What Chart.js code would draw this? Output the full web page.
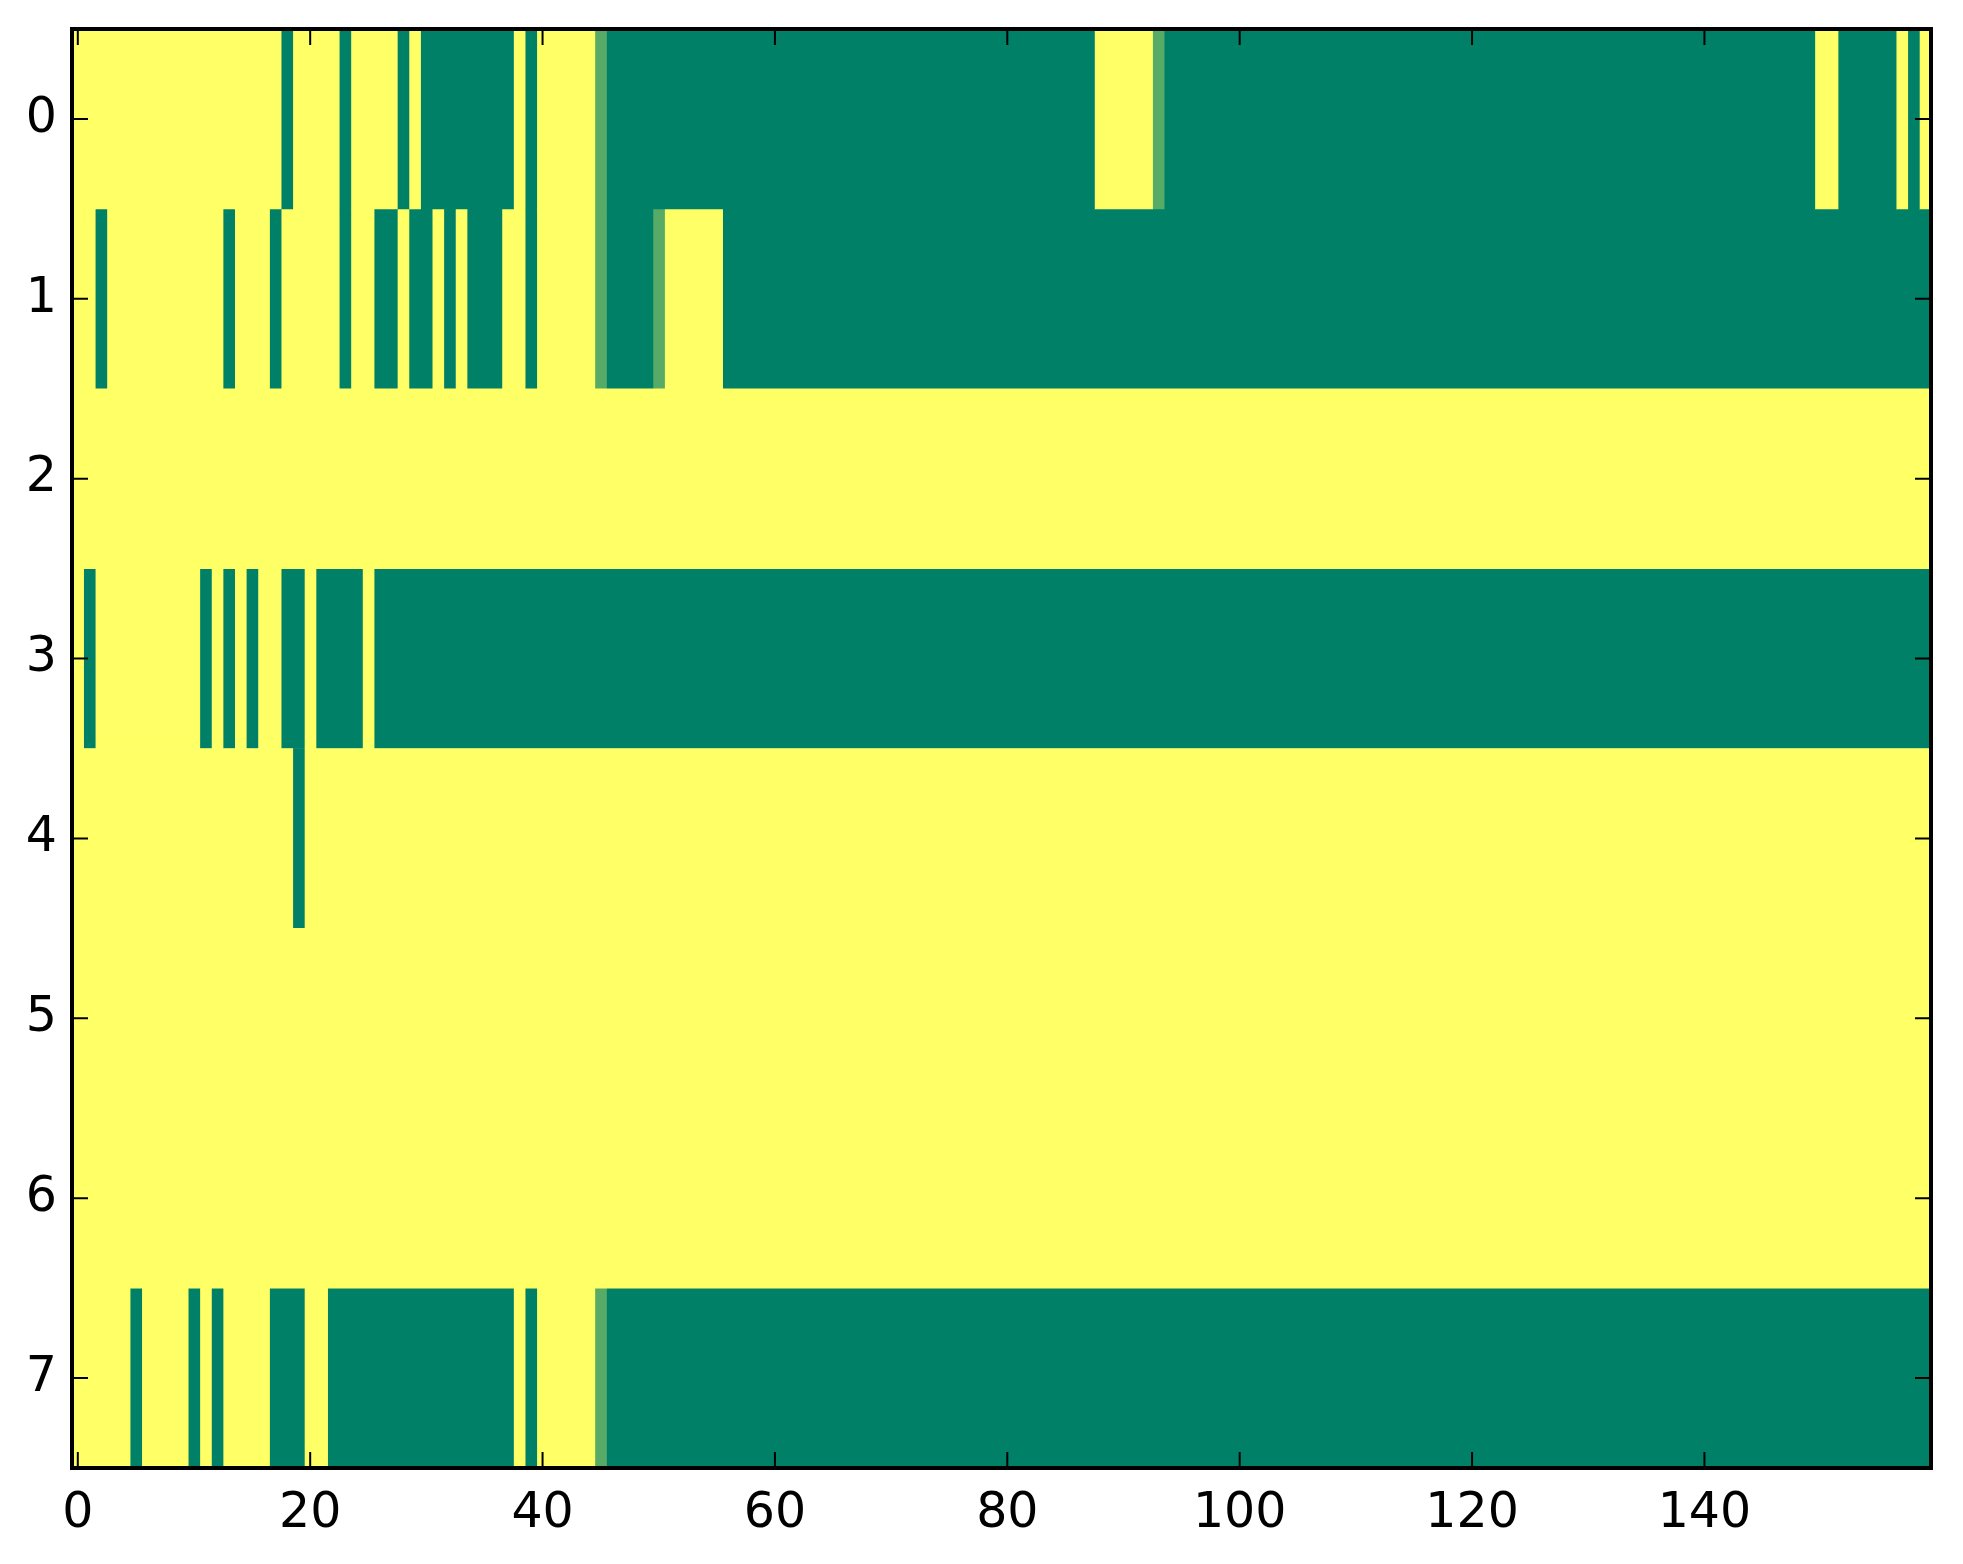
<!DOCTYPE html>
<html>
<head>
<meta charset="utf-8">
<title>heatmap</title>
<script src="https://cdn.jsdelivr.net/npm/chart.js@4.4.1/dist/chart.umd.min.js"></script>
<style>
    html, body { margin: 0; padding: 0; background: #ffffff; }
    #chart { display: block; }
</style>
</head>
<body>
<canvas id="chart" width="1963" height="1564"></canvas>
<script>
// cell values, 1 = yellow end of the map, 0 = green end, L = partial cell
const L = 0.34;

const rowLabels = ['0', '1', '2', '3', '4', '5', '6', '7'];
const xTicks = [0, 20, 40, 60, 80, 100, 120, 140];

const row0 = [
    1,1,1,1,1,1,1,1,1,1,1,1,1,1,1,1,1,1,0,1,
    1,1,1,0,1,1,1,1,0,1,0,0,0,0,0,0,0,0,1,0,
    1,1,1,1,1,L,0,0,0,0,0,0,0,0,0,0,0,0,0,0,
    0,0,0,0,0,0,0,0,0,0,0,0,0,0,0,0,0,0,0,0,
    0,0,0,0,0,0,0,0,1,1,1,1,1,L,0,0,0,0,0,0,
    0,0,0,0,0,0,0,0,0,0,0,0,0,0,0,0,0,0,0,0,
    0,0,0,0,0,0,0,0,0,0,0,0,0,0,0,0,0,0,0,0,
    0,0,0,0,0,0,0,0,0,0,1,1,0,0,0,0,0,1,0,1
];
const row1 = [
    1,1,0,1,1,1,1,1,1,1,1,1,1,0,1,1,1,0,1,1,
    1,1,1,0,1,1,0,0,1,0,0,1,0,1,0,0,0,1,1,0,
    1,1,1,1,1,L,0,0,0,0,L,1,1,1,1,1,0,0,0,0,
    0,0,0,0,0,0,0,0,0,0,0,0,0,0,0,0,0,0,0,0,
    0,0,0,0,0,0,0,0,0,0,0,0,0,0,0,0,0,0,0,0,
    0,0,0,0,0,0,0,0,0,0,0,0,0,0,0,0,0,0,0,0,
    0,0,0,0,0,0,0,0,0,0,0,0,0,0,0,0,0,0,0,0,
    0,0,0,0,0,0,0,0,0,0,0,0,0,0,0,0,0,0,0,0
];
const row2 = [
    1,1,1,1,1,1,1,1,1,1,1,1,1,1,1,1,1,1,1,1,
    1,1,1,1,1,1,1,1,1,1,1,1,1,1,1,1,1,1,1,1,
    1,1,1,1,1,1,1,1,1,1,1,1,1,1,1,1,1,1,1,1,
    1,1,1,1,1,1,1,1,1,1,1,1,1,1,1,1,1,1,1,1,
    1,1,1,1,1,1,1,1,1,1,1,1,1,1,1,1,1,1,1,1,
    1,1,1,1,1,1,1,1,1,1,1,1,1,1,1,1,1,1,1,1,
    1,1,1,1,1,1,1,1,1,1,1,1,1,1,1,1,1,1,1,1,
    1,1,1,1,1,1,1,1,1,1,1,1,1,1,1,1,1,1,1,1
];
const row3 = [
    1,0,1,1,1,1,1,1,1,1,1,0,1,0,1,0,1,1,0,0,
    1,0,0,0,0,1,0,0,0,0,0,0,0,0,0,0,0,0,0,0,
    0,0,0,0,0,0,0,0,0,0,0,0,0,0,0,0,0,0,0,0,
    0,0,0,0,0,0,0,0,0,0,0,0,0,0,0,0,0,0,0,0,
    0,0,0,0,0,0,0,0,0,0,0,0,0,0,0,0,0,0,0,0,
    0,0,0,0,0,0,0,0,0,0,0,0,0,0,0,0,0,0,0,0,
    0,0,0,0,0,0,0,0,0,0,0,0,0,0,0,0,0,0,0,0,
    0,0,0,0,0,0,0,0,0,0,0,0,0,0,0,0,0,0,0,0
];
const row4 = [
    1,1,1,1,1,1,1,1,1,1,1,1,1,1,1,1,1,1,1,0,
    1,1,1,1,1,1,1,1,1,1,1,1,1,1,1,1,1,1,1,1,
    1,1,1,1,1,1,1,1,1,1,1,1,1,1,1,1,1,1,1,1,
    1,1,1,1,1,1,1,1,1,1,1,1,1,1,1,1,1,1,1,1,
    1,1,1,1,1,1,1,1,1,1,1,1,1,1,1,1,1,1,1,1,
    1,1,1,1,1,1,1,1,1,1,1,1,1,1,1,1,1,1,1,1,
    1,1,1,1,1,1,1,1,1,1,1,1,1,1,1,1,1,1,1,1,
    1,1,1,1,1,1,1,1,1,1,1,1,1,1,1,1,1,1,1,1
];
const row5 = [
    1,1,1,1,1,1,1,1,1,1,1,1,1,1,1,1,1,1,1,1,
    1,1,1,1,1,1,1,1,1,1,1,1,1,1,1,1,1,1,1,1,
    1,1,1,1,1,1,1,1,1,1,1,1,1,1,1,1,1,1,1,1,
    1,1,1,1,1,1,1,1,1,1,1,1,1,1,1,1,1,1,1,1,
    1,1,1,1,1,1,1,1,1,1,1,1,1,1,1,1,1,1,1,1,
    1,1,1,1,1,1,1,1,1,1,1,1,1,1,1,1,1,1,1,1,
    1,1,1,1,1,1,1,1,1,1,1,1,1,1,1,1,1,1,1,1,
    1,1,1,1,1,1,1,1,1,1,1,1,1,1,1,1,1,1,1,1
];
const row6 = [
    1,1,1,1,1,1,1,1,1,1,1,1,1,1,1,1,1,1,1,1,
    1,1,1,1,1,1,1,1,1,1,1,1,1,1,1,1,1,1,1,1,
    1,1,1,1,1,1,1,1,1,1,1,1,1,1,1,1,1,1,1,1,
    1,1,1,1,1,1,1,1,1,1,1,1,1,1,1,1,1,1,1,1,
    1,1,1,1,1,1,1,1,1,1,1,1,1,1,1,1,1,1,1,1,
    1,1,1,1,1,1,1,1,1,1,1,1,1,1,1,1,1,1,1,1,
    1,1,1,1,1,1,1,1,1,1,1,1,1,1,1,1,1,1,1,1,
    1,1,1,1,1,1,1,1,1,1,1,1,1,1,1,1,1,1,1,1
];
const row7 = [
    1,1,1,1,1,0,1,1,1,1,0,1,0,1,1,1,1,0,0,0,
    1,1,0,0,0,0,0,0,0,0,0,0,0,0,0,0,0,0,1,0,
    1,1,1,1,1,L,0,0,0,0,0,0,0,0,0,0,0,0,0,0,
    0,0,0,0,0,0,0,0,0,0,0,0,0,0,0,0,0,0,0,0,
    0,0,0,0,0,0,0,0,0,0,0,0,0,0,0,0,0,0,0,0,
    0,0,0,0,0,0,0,0,0,0,0,0,0,0,0,0,0,0,0,0,
    0,0,0,0,0,0,0,0,0,0,0,0,0,0,0,0,0,0,0,0,
    0,0,0,0,0,0,0,0,0,0,0,0,0,0,0,0,0,0,0,0
];

const rows = [row0, row1, row2, row3, row4, row5, row6, row7];

// matplotlib "summer" colormap
function summer(v) {
    const r = Math.round(255 * v);
    const g = Math.round(255 * (0.5 + v / 2));
    const b = Math.round(255 * 0.4);
    return 'rgb(' + r + ',' + g + ',' + b + ')';
}

// merge neighbouring equal cells of a row into runs, each run is one floating bar
const runs = rows.map(function (row) {
    const out = [];
    let start = 0;
    for (let c = 1; c <= row.length; c++) {
        if (c === row.length || row[c] !== row[start]) {
            out.push({ from: start - 0.5, to: c - 0.5, v: row[start] });
            start = c;
        }
    }
    return out;
});

const maxRuns = Math.max.apply(null, runs.map(r => r.length));
const datasets = [];
for (let k = 0; k < maxRuns; k++) {
    datasets.push({
        data: runs.map(r => r[k] ? [r[k].from, r[k].to] : null),
        backgroundColor: runs.map(r => r[k] ? summer(r[k].v) : 'rgba(0,0,0,0)'),
        borderWidth: 0,
        borderSkipped: false,
        grouped: false,
        barPercentage: 1,
        categoryPercentage: 1
    });
}

// frame and inward tick marks, matplotlib classic look
const frameTicks = {
    id: 'frameTicks',
    afterDatasetsDraw(chart) {
        const ctx = chart.ctx;
        const a = chart.chartArea;
        const xs = chart.scales.x;
        const ys = chart.scales.y;
        const len = 16;
        ctx.save();
        ctx.strokeStyle = '#000000';
        ctx.lineWidth = 2;
        ctx.beginPath();
        xTicks.forEach(function (t) {
            const px = xs.getPixelForValue(t);
            ctx.moveTo(px, a.bottom);
            ctx.lineTo(px, a.bottom - len);
            ctx.moveTo(px, a.top);
            ctx.lineTo(px, a.top + len);
        });
        rowLabels.forEach(function (lab, i) {
            const py = ys.getPixelForValue(i);
            ctx.moveTo(a.left, py);
            ctx.lineTo(a.left + len, py);
            ctx.moveTo(a.right, py);
            ctx.lineTo(a.right - len, py);
        });
        ctx.stroke();
        ctx.lineWidth = 4;
        ctx.strokeRect(a.left, a.top, a.right - a.left, a.bottom - a.top);
        ctx.restore();
    }
};

Chart.defaults.font.family = "'DejaVu Sans', sans-serif";
Chart.defaults.font.size = 49;
Chart.defaults.color = '#000000';

const ctx = document.getElementById('chart').getContext('2d');
const myChart = new Chart(ctx, {
    type: 'bar',
    data: {
        labels: rowLabels,
        datasets: datasets
    },
    options: {
        indexAxis: 'y',
        responsive: false,
        animation: false,
        devicePixelRatio: 1,
        layout: {
            padding: { top: 29, right: 32, left: 0, bottom: 0 }
        },
        scales: {
            x: {
                type: 'linear',
                min: -0.5,
                max: 159.5,
                grid: { display: false, drawTicks: false },
                border: { display: false },
                afterBuildTicks: function (axis) {
                    axis.ticks = xTicks.map(v => ({ value: v }));
                },
                afterFit: function (axis) {
                    axis.height = 96;
                    axis.paddingLeft = 0;
                    axis.paddingRight = 0;
                },
                ticks: {
                    padding: 17,
                    maxRotation: 0,
                    autoSkip: false,
                    callback: v => String(v)
                }
            },
            y: {
                type: 'category',
                offset: true,
                grid: { display: false, drawTicks: false },
                border: { display: false },
                afterFit: function (axis) {
                    axis.width = 72;
                    axis.paddingTop = 0;
                    axis.paddingBottom = 0;
                },
                ticks: {
                    padding: 15,
                    autoSkip: false
                }
            }
        },
        plugins: {
            legend: { display: false },
            tooltip: { enabled: false }
        }
    },
    plugins: [frameTicks]
});
</script>
</body>
</html>
